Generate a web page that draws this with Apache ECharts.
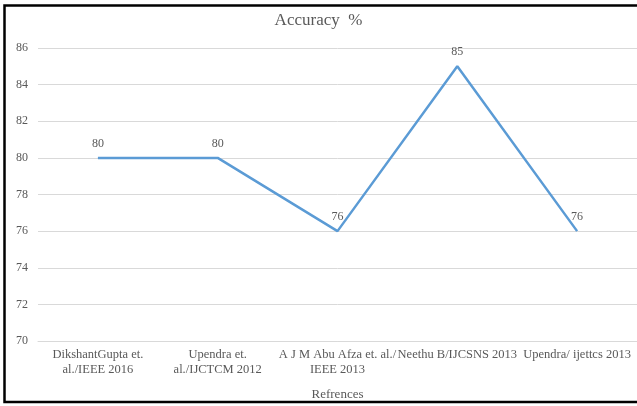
<!DOCTYPE html>
<html>
<head>
<meta charset="utf-8">
<script src="https://cdn.jsdelivr.net/npm/echarts@6/dist/echarts.min.js"></script>
<style>
  html, body { margin: 0; padding: 0; background: #fff; }
  #chart { width: 637px; height: 406px; }
</style>
</head>
<body>
<div id="chart"></div>
<script>
// References compared and the accuracy each one reports
const references = [
  'DikshantGupta et.\nal./IEEE 2016',
  'Upendra et.\nal./IJCTCM 2012',
  'A J M Abu Afza et. al./\nIEEE 2013',
  'Neethu B/IJCSNS 2013',
  'Upendra/ ijettcs 2013'
];
const accuracy = [80, 80, 76, 85, 76];

const textColor = '#595959';
const fontFamily = '"Liberation Serif", "Times New Roman", serif';

const chart = echarts.init(document.getElementById('chart'), null, { renderer: 'canvas' });
chart.setOption({
  animation: false,
  backgroundColor: '#fff',
  textStyle: { fontFamily: fontFamily, color: textColor },
  title: {
    text: 'Accuracy  %',
    left: 'center',
    top: 7,
    textStyle: { fontFamily: fontFamily, fontSize: 17, fontWeight: 'normal', color: textColor }
  },
  graphic: [{
    type: 'rect',
    shape: { x: 4.5, y: 5.5, width: 650, height: 396.5 },
    style: { fill: 'none', stroke: '#000', lineWidth: 2.5 },
    z: 100
  }],
  grid: { left: 38, right: -3, top: 48, bottom: 60, containLabel: false },
  xAxis: {
    type: 'category',
    data: references,
    boundaryGap: true,
    name: 'Refrences',
    nameLocation: 'middle',
    nameGap: 47,
    nameTextStyle: { fontFamily: fontFamily, fontSize: 13, color: textColor },
    axisLine: { show: true, lineStyle: { color: '#d9d9d9', width: 1 } },
    axisTick: { show: false },
    axisLabel: {
      interval: 0,
      margin: 6,
      fontFamily: fontFamily,
      fontSize: 12.5,
      lineHeight: 15,
      color: textColor
    }
  },
  yAxis: {
    type: 'value',
    min: 70,
    max: 86,
    interval: 2,
    axisLine: { show: false },
    axisTick: { show: false },
    splitLine: { lineStyle: { color: '#d9d9d9', width: 1 } },
    axisLabel: { margin: 10, fontFamily: fontFamily, fontSize: 12, color: textColor }
  },
  series: [{
    type: 'line',
    data: accuracy,
    symbol: 'circle',
    showSymbol: true,
    symbolSize: 2,
    itemStyle: { color: 'rgba(0,0,0,0)' },
    lineStyle: { color: '#5b9bd5', width: 2.5 },
    label: {
      show: true,
      position: 'top',
      distance: 7,
      fontFamily: fontFamily,
      fontSize: 12,
      color: textColor
    }
  }]
});
</script>
</body>
</html>
